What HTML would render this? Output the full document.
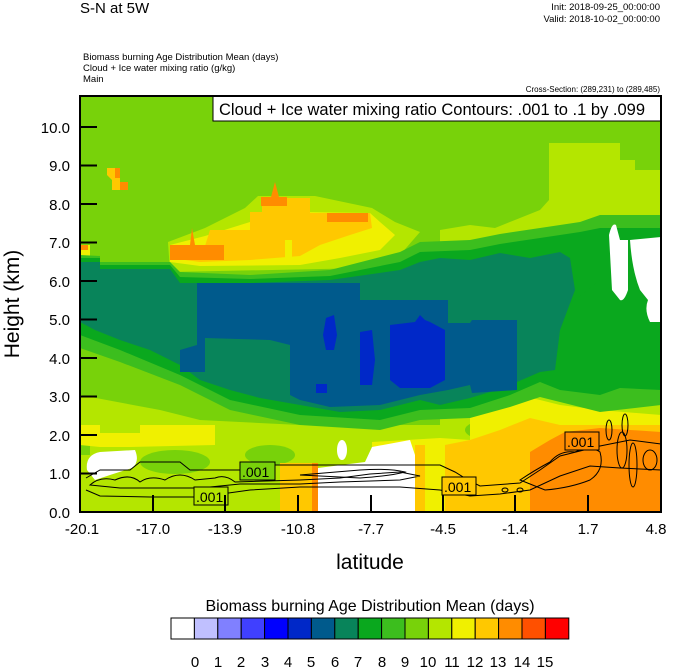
<!DOCTYPE html>
<html><head><meta charset="utf-8"><style>
html,body{margin:0;padding:0;background:#fff;overflow:hidden;}
svg{display:block}
svg text{font-family:"Liberation Sans",sans-serif;fill:#000}
</style></head><body>
<svg width="674" height="668" viewBox="0 0 674 668" xmlns="http://www.w3.org/2000/svg">
<text x="80" y="13" font-size="15">S-N at 5W</text>
<text x="660" y="10" font-size="9.5" text-anchor="end">Init: 2018-09-25_00:00:00</text>
<text x="660" y="22" font-size="9.5" text-anchor="end">Valid: 2018-10-02_00:00:00</text>
<text x="83" y="60" font-size="9.5">Biomass burning Age Distribution Mean   (days)</text>
<text x="83" y="71" font-size="9.5">Cloud + Ice water mixing ratio   (g/kg)</text>
<text x="83" y="82" font-size="9.5">Main</text>
<text x="660" y="92" font-size="8" text-anchor="end">Cross-Section: (289,231) to (289,485)</text>
<defs><clipPath id="c"><rect x="80" y="96" width="581" height="416"/></clipPath></defs>
<g clip-path="url(#c)">
<rect x="80" y="96" width="581" height="416" fill="#78d20a"/>
<polygon fill="#b4e600" points="549,143 620,143 620,160 635,160 635,170 661,170 661,430 440,430 440,230 470,225 495,228 520,218 540,210 549,200"/>
<polygon fill="#b4e600" points="80,395 160,410 200,420 300,425 470,425 470,512 80,512"/>
<polygon fill="#78d20a" points="80,440 90,445 90,455 80,455"/>
<ellipse cx="175" cy="462" rx="35" ry="12" fill="#78d20a"/>
<ellipse cx="270" cy="455" rx="25" ry="10" fill="#78d20a"/>
<ellipse cx="490" cy="430" rx="25" ry="10" fill="#78d20a"/>
<polygon fill="#f0f000" points="80,425 100,425 100,433 140,433 140,425 215,425 215,445 130,447 100,447 80,445"/>
<polygon fill="#f0f000" points="470,392 520,395 560,405 600,410 661,415 661,512 470,512"/>
<polygon fill="#f0f000" points="372,442 440,438 470,440 470,512 372,512"/>
<polygon fill="#ffc800" points="415,445 425,445 425,512 415,512"/>
<polygon fill="#ffc800" points="445,445 470,440 500,430 530,418 560,425 600,425 661,425 661,512 445,512"/>
<polygon fill="#ffc800" points="280,463 318,463 318,512 280,512"/>
<polygon fill="#ff8c00" points="312,463 318,463 318,512 312,512"/>
<polygon fill="#ff8c00" points="530,452 550,440 565,432 600,428 661,432 661,512 530,512"/>
<polygon fill="#ffffff" points="318,468 365,462 372,447 410,440 415,455 415,512 318,512"/>
<path fill="#ffffff" d="M87,470 Q85,455 100,452 L135,450 Q140,462 132,468 L110,475 L95,480 Z"/>
<ellipse cx="342" cy="450" rx="5" ry="10" fill="#ffffff"/>
<!-- upper yellow/orange -->
<polygon fill="#b4e600" points="168,242 205,228 245,208 258,196 315,196 372,208 395,222 420,232 400,255 370,268 170,272"/>
<polygon fill="#f0f000" points="170,245 205,236 250,222 300,212 370,213 380,222 395,235 380,250 340,258 300,265 200,266 170,262"/>
<polygon fill="#ffc800" points="170,245 205,246 210,230 250,230 250,212 262,212 262,198 310,198 310,213 370,213 372,228 350,235 320,245 300,256 250,260 200,262 170,258"/>
<polygon fill="#f0f000" points="285,240 292,240 292,260 285,260"/>
<polygon fill="#ff8c00" points="170,245 224,245 224,260 170,260"/>
<polygon fill="#ff8c00" points="190,245 192,228 195,245"/>
<polygon fill="#ff8c00" points="261,197 287,197 287,206 261,206"/>
<polygon fill="#ff8c00" points="271,197 275,182 279,197"/>
<polygon fill="#ff8c00" points="327,213 368,213 368,222 327,222"/>
<polygon fill="#ffc800" points="107,168 117,168 117,175 120,175 120,190 112,190 112,180 107,175"/>
<polygon fill="#ff8c00" points="115,168 120,168 120,178 115,178"/>
<polygon fill="#ff8c00" points="120,182 128,182 128,190 120,190"/>
<polygon fill="#f0f000" points="80,245 90,245 90,262 80,262"/>
<polygon fill="#ff8c00" points="80,245 88,245 88,250 80,250"/>
<!-- greens -->
<polygon fill="#3cbe1e" points="80,255 100,256 100,262 170,262 180,272 250,275 330,270 400,252 420,242 470,240 500,234 540,228 580,222 600,215 661,215 661,405 600,412 560,402 540,397 510,407 470,418 420,420 380,430 300,425 230,410 180,385 120,362 80,348"/>
<polygon fill="#0aa81e" points="80,258 100,258 100,265 170,265 180,277 250,279 330,276 400,262 420,252 470,250 500,244 540,238 580,232 600,228 661,228 661,390 620,388 600,395 560,390 540,382 510,395 470,408 420,410 380,420 300,415 230,400 180,375 120,350 80,335"/>
<polygon fill="#08845a" points="80,262 100,262 100,269 170,269 180,283 250,283 330,280 400,270 420,262 440,258 470,260 500,253 530,258 560,252 570,258 575,290 560,330 555,370 540,372 510,385 490,392 470,398 440,405 420,400 380,410 340,412 300,405 260,398 230,390 200,380 180,365 150,350 120,340 95,330 80,322"/>
<polygon fill="#0aa81e" points="575,300 600,280 661,285 661,380 575,380"/>
<!-- blue -->
<polygon fill="#005a8c" points="197,283 360,283 360,300 448,300 448,323 470,323 472,320 517,320 517,390 472,393 470,385 448,390 448,390 420,395 380,405 330,407 300,400 290,395 290,345 270,340 205,338 205,372 180,372 180,350 197,345"/>
<polygon fill="#0028c8" points="326,318 334,315 337,335 334,350 326,350 323,335"/>
<polygon fill="#0028c8" points="360,332 372,330 375,360 372,385 360,385"/>
<polygon fill="#0028c8" points="390,325 415,322 420,315 425,320 430,322 445,330 445,380 430,388 400,388 390,380"/>
<polygon fill="#0028c8" points="316,384 327,384 327,393 316,393"/>
<!-- right whites -->
<path fill="#fff" d="M609,235 Q612,222 616,225 L620,240 L628,240 L628,290 Q624,302 620,300 L612,290 Z"/>
<path fill="#fff" d="M630,240 L661,237 L661,322 L650,322 Q644,310 648,300 L640,290 Q632,270 630,240 Z"/>
<!-- contours -->
<g fill="none" stroke="#000" stroke-width="1">
<path d="M86,478 L100,470 L130,470 L140,462 L180,462 L190,470 L240,470 L250,465 L440,465 L455,472 L468,480 L480,486 L520,483 L540,470 L560,456 L600,446 L630,440 L661,444"/>
<path d="M86,490 L100,496 L150,497 L200,497 L250,490 L300,487 L400,487 L440,490 L470,496 L500,494 L530,490 L560,476 L590,466 L620,468 L661,470"/>
<path d="M90,485 Q100,476 115,480 Q130,473 140,482 Q150,475 165,480 Q180,470 195,480 L215,478 Q225,474 235,482 L300,480 L340,478 L370,474 L400,472 L420,476 L400,480 L340,482 L300,484 L240,484 L200,488 L160,488 L120,488 Z"/>
<path d="M300,475 L360,470 Q390,468 405,472 Q390,476 360,478 Z"/>
<path d="M520,480 Q535,470 550,462 Q560,450 575,452 Q590,445 600,452 Q605,470 590,480 Q570,488 545,490 Z"/>
<ellipse cx="609" cy="430" rx="3" ry="10"/>
<ellipse cx="625" cy="425" rx="3" ry="11"/>
<ellipse cx="622" cy="450" rx="5" ry="18"/>
<ellipse cx="633" cy="465" rx="4" ry="22"/>
<ellipse cx="650" cy="460" rx="7" ry="10"/>
<ellipse cx="505" cy="490" rx="3" ry="2"/>
<ellipse cx="520" cy="490" rx="3" ry="2"/>
</g>
<g font-size="14">
<rect x="194" y="487" width="34" height="18" fill="#b4e600" stroke="#000"/><text x="196" y="502">.001</text>
<rect x="240" y="462" width="35" height="18" fill="#78d20a" stroke="#000"/><text x="242" y="477">.001</text>
<rect x="442" y="477" width="34" height="18" fill="#ffc800" stroke="#000"/><text x="444" y="492">.001</text>
<rect x="565" y="432" width="34" height="18" fill="#ff8c00" stroke="#000"/><text x="567" y="447">.001</text>
</g>
</g>
<rect x="213" y="96" width="448" height="25" fill="#fff" stroke="#000"/>
<text x="219" y="115" font-size="16.5">Cloud + Ice water mixing ratio Contours: .001 to .1 by .099</text>
<rect x="80" y="96" width="581" height="416" fill="none" stroke="#000" stroke-width="2"/>
<g stroke="#000" stroke-width="2">
<line x1="80" y1="127" x2="97" y2="127"/><line x1="80" y1="165.5" x2="97" y2="165.5"/><line x1="80" y1="204" x2="97" y2="204"/><line x1="80" y1="242.5" x2="97" y2="242.5"/><line x1="80" y1="281" x2="97" y2="281"/><line x1="80" y1="319.5" x2="97" y2="319.5"/><line x1="80" y1="358" x2="97" y2="358"/><line x1="80" y1="396.5" x2="97" y2="396.5"/><line x1="80" y1="435" x2="97" y2="435"/><line x1="80" y1="473.5" x2="97" y2="473.5"/>
<line x1="153" y1="512" x2="153" y2="495"/><line x1="225" y1="512" x2="225" y2="495"/><line x1="298" y1="512" x2="298" y2="495"/><line x1="371" y1="512" x2="371" y2="495"/><line x1="443" y1="512" x2="443" y2="495"/><line x1="515" y1="512" x2="515" y2="495"/><line x1="588" y1="512" x2="588" y2="495"/>
</g>
<g font-size="15" text-anchor="end">
<text x="70" y="133">10.0</text><text x="70" y="171">9.0</text><text x="70" y="210">8.0</text><text x="70" y="248">7.0</text><text x="70" y="287">6.0</text><text x="70" y="325">5.0</text><text x="70" y="364">4.0</text><text x="70" y="402">3.0</text><text x="70" y="441">2.0</text><text x="70" y="479">1.0</text><text x="70" y="518">0.0</text>
</g>
<g font-size="15" text-anchor="middle">
<text x="82" y="534">-20.1</text><text x="153" y="534">-17.0</text><text x="225" y="534">-13.9</text><text x="298" y="534">-10.8</text><text x="371" y="534">-7.7</text><text x="443" y="534">-4.5</text><text x="515" y="534">-1.4</text><text x="588" y="534">1.7</text><text x="656" y="534">4.8</text>
</g>
<text x="370" y="569" font-size="21" text-anchor="middle">latitude</text>
<text transform="translate(19,304) rotate(-90)" font-size="21" text-anchor="middle">Height (km)</text>
<text x="370" y="611" font-size="16" text-anchor="middle">Biomass burning Age Distribution Mean  (days)</text>
<g stroke="#000" stroke-width="1">
<rect x="171" y="618" width="23.4" height="21" fill="#ffffff"/>
<rect x="194.4" y="618" width="23.4" height="21" fill="#c0c0ff"/>
<rect x="217.8" y="618" width="23.4" height="21" fill="#8080ff"/>
<rect x="241.2" y="618" width="23.4" height="21" fill="#4040ff"/>
<rect x="264.6" y="618" width="23.4" height="21" fill="#0000ff"/>
<rect x="288" y="618" width="23.4" height="21" fill="#0028c8"/>
<rect x="311.4" y="618" width="23.4" height="21" fill="#005a8c"/>
<rect x="334.8" y="618" width="23.4" height="21" fill="#08845a"/>
<rect x="358.2" y="618" width="23.4" height="21" fill="#0aa81e"/>
<rect x="381.6" y="618" width="23.4" height="21" fill="#3cbe1e"/>
<rect x="405" y="618" width="23.4" height="21" fill="#78d20a"/>
<rect x="428.4" y="618" width="23.4" height="21" fill="#b4e600"/>
<rect x="451.8" y="618" width="23.4" height="21" fill="#f0f000"/>
<rect x="475.2" y="618" width="23.4" height="21" fill="#ffc800"/>
<rect x="498.6" y="618" width="23.4" height="21" fill="#ff8c00"/>
<rect x="522" y="618" width="23.4" height="21" fill="#ff5000"/>
<rect x="545.4" y="618" width="23.4" height="21" fill="#ff0000"/>
</g>
<g font-size="15" text-anchor="middle">
<text x="195" y="667">0</text><text x="218" y="667">1</text><text x="241" y="667">2</text><text x="265" y="667">3</text><text x="288" y="667">4</text><text x="311" y="667">5</text><text x="335" y="667">6</text><text x="358" y="667">7</text><text x="382" y="667">8</text><text x="405" y="667">9</text><text x="428" y="667">10</text><text x="452" y="667">11</text><text x="475" y="667">12</text><text x="498" y="667">13</text><text x="522" y="667">14</text><text x="545" y="667">15</text>
</g>
</svg>
</body></html>
